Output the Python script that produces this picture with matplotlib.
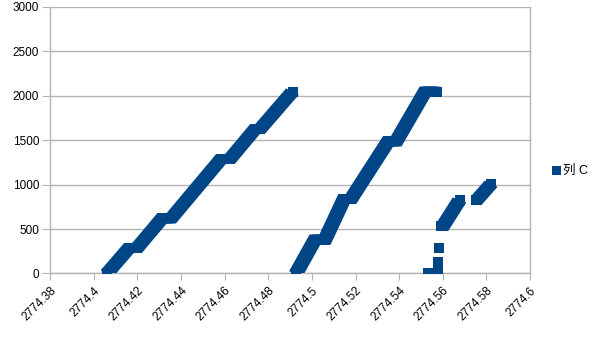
import matplotlib
matplotlib.use("Agg")
import matplotlib.pyplot as plt
from matplotlib.lines import Line2D
from matplotlib.transforms import offset_copy

# values (列 C, x = column B)
run1_x = [2774.4060, 2774.4161, 2774.4198, 2774.4312, 2774.4354, 2774.4583, 2774.4624, 2774.4739, 2774.4762, 2774.4911]
run1_y = [0, 287, 287, 619, 619, 1288, 1288, 1625, 1625, 2047]

run2_x = [2774.4927, 2774.5014, 2774.5060, 2774.5147, 2774.5179, 2774.5349, 2774.5386, 2774.5519, 2774.5574]
run2_y = [0, 382, 382, 838, 838, 1485, 1485, 2047, 2047]

run3_x = [2774.5590, 2774.5601, 2774.5677]
run3_y = [534, 534, 827]

run4_x = [2774.5751, 2774.5756, 2774.5822]
run4_y = [827, 827, 1010]

loose_x = [2774.5533, 2774.5551, 2774.5578, 2774.5578, 2774.5578, 2774.5585]
loose_y = [0, 0, 0, 60, 130, 287]

xticks = [2774.38, 2774.40, 2774.42, 2774.44, 2774.46, 2774.48, 2774.50,
          2774.52, 2774.54, 2774.56, 2774.58, 2774.60]
xtick_labels = ["2774.38", "2774.4", "2774.42", "2774.44", "2774.46", "2774.48", "2774.5",
                "2774.52", "2774.54", "2774.56", "2774.58", "2774.6"]
yticks = [0, 500, 1000, 1500, 2000, 2500, 3000]

series_name = "列 C"
blue = "#004586"
grey = "#b3b3b3"

plt.rcParams['font.family'] = ['Liberation Sans', 'Noto Sans CJK SC', 'DejaVu Sans']

fig = plt.figure(figsize=(6.05, 3.4), dpi=100)
ax = fig.add_axes([0.0831, 0.1956, 0.7929, 0.7844])

px = 72 / 100.0
# a square marker dragged along the points: draw the path a few times, nudged sideways
shifts = [-2.5, 0, 2.5]
for xs, ys in [(run1_x, run1_y), (run2_x, run2_y), (run3_x, run3_y), (run4_x, run4_y)]:
    for dx in shifts:
        tr = offset_copy(ax.transData, fig=fig, x=dx, y=0, units='dots')
        ax.plot(xs, ys, color=blue, lw=10 * px, solid_capstyle='butt', solid_joinstyle='miter',
                transform=tr, zorder=3)
    ax.plot(xs, ys, ls='none', color=blue, marker='s', ms=10 * px, mew=0, zorder=3)
ax.plot(loose_x, loose_y, ls='none', color=blue, marker='s', ms=10 * px, mew=0, zorder=3)

ax.set_xlim(2774.38, 2774.60)
ax.set_ylim(0, 3000)
ax.set_xticks(xticks)
ax.set_xticklabels(xtick_labels, rotation=45, ha='right', rotation_mode='anchor', fontsize=8.5)
ax.set_yticks(yticks)
ax.set_yticklabels([str(v) for v in yticks], fontsize=8.5)

ax.yaxis.grid(True, color=grey, lw=1)
ax.set_axisbelow(True)
for s in ax.spines.values():
    s.set_color(grey)
    s.set_linewidth(1)
ax.spines['top'].set_visible(False)
ax.tick_params(axis='x', length=5, color=grey, pad=3)
ax.tick_params(axis='y', length=6, color=grey, pad=2)

handle = Line2D([], [], ls='none', marker='s', color=blue, ms=9 * px, mew=0)
fig.legend([handle], [series_name], loc='center left', bbox_to_anchor=(0.9, 0.497),
           frameon=False, fontsize=9, handlelength=0.8, handletextpad=0.2, borderpad=0)

fig.savefig("out.png", dpi=100)
